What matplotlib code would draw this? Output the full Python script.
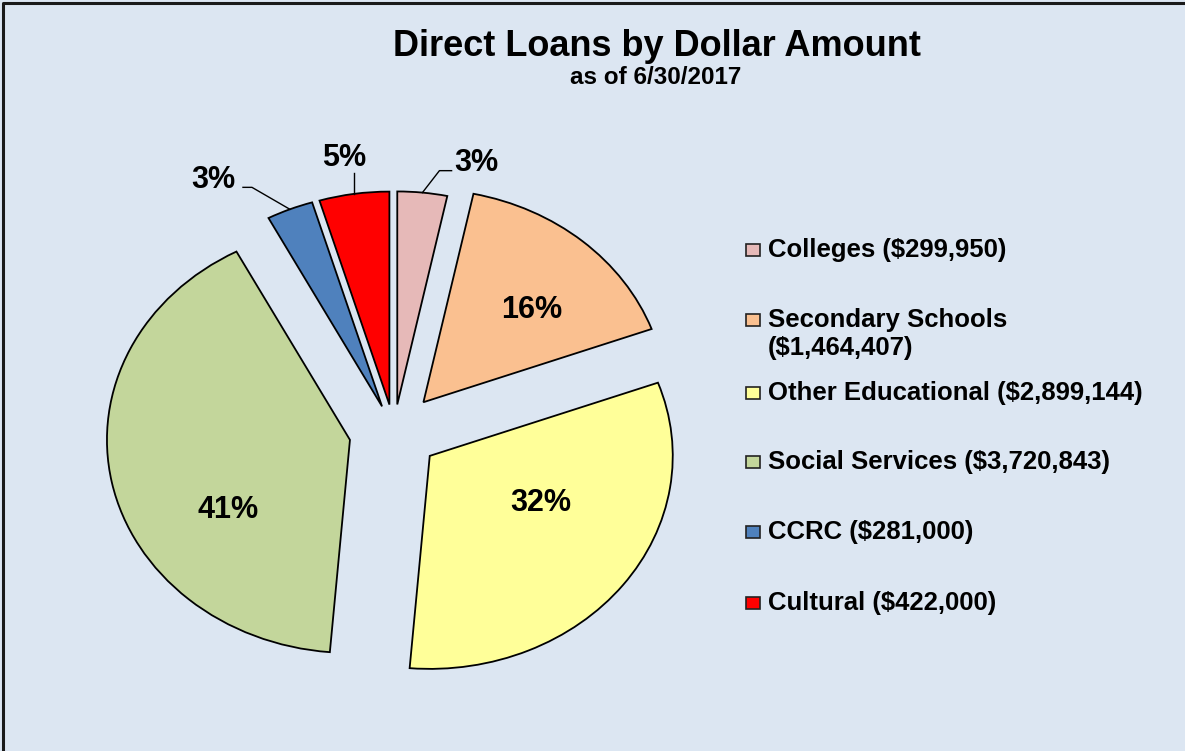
import matplotlib.pyplot as plt
from matplotlib.lines import Line2D
from matplotlib.patches import Rectangle
import numpy as np

plt.rcParams['font.family'] = ['Liberation Sans', 'DejaVu Sans']
plt.rcParams['font.weight'] = 'bold'

# data
categories = ['Colleges', 'Secondary Schools', 'Other Educational',
              'Social Services', 'CCRC', 'Cultural']
amounts = [299950, 1464407, 2899144, 3720843, 281000, 422000]
legend_labels = ['Colleges ($299,950)', 'Secondary Schools\n($1,464,407)',
                 'Other Educational ($2,899,144)', 'Social Services ($3,720,843)',
                 'CCRC ($281,000)', 'Cultural ($422,000)']
colors = ['#E6B9B8', '#FAC090', '#FFFF99', '#C3D69B', '#4F81BD', '#FF0000']
explode = [0.13, 0.185, 0.185, 0.185, 0.13, 0.13]

bg = '#DCE6F2'
W, H = 1185, 751
fig = plt.figure(figsize=(W / 100, H / 100), dpi=100)
fig.patch.set_facecolor(bg)

# pie centre and radii in pixels (the picture is stretched sideways)
cx, cy = 394, 432
rx, ry = 243, 213
lim = 1.5
ax = fig.add_axes([(cx - lim * rx) / W, (H - cy - lim * ry) / H,
                   2 * lim * rx / W, 2 * lim * ry / H])
wedges, _ = ax.pie(amounts, colors=colors, explode=explode, startangle=90,
                   counterclock=False,
                   wedgeprops=dict(edgecolor='black', linewidth=1.3))
ax.set_aspect('auto')
ax.set_xlim(-lim, lim)
ax.set_ylim(-lim, lim)
ax.set_facecolor('none')

total = float(sum(amounts))
pcts = ['%d%%' % round(100 * a / total) for a in amounts]

# labels inside the big slices
inside_pos = {1: (0.568, 0.573), 2: (0.605, -0.333), 3: (-0.683, -0.366)}
for i, (x, y) in inside_pos.items():
    ax.text(x, y, pcts[i], ha='center', va='center', fontsize=22, fontweight='bold')

# labels with leader lines for the small slices
# (elbow offset from arc point, extra horizontal run, text anchor)
leaders = {0: ((0.07, 0.103), 0.05, 'left'),
           4: ((-0.156, 0.103), -0.037, 'right'),
           5: ((0.0, 0.1), 0.0, 'center')}
for i, ((ex, ey), run, ha) in leaders.items():
    w = wedges[i]
    mid = np.deg2rad((w.theta1 + w.theta2) / 2)
    x0 = w.center[0] + w.r * np.cos(mid)
    y0 = w.center[1] + w.r * np.sin(mid)
    x1, y1 = x0 + ex, y0 + ey
    x2 = x1 + run
    ax.plot([x0, x1, x2], [y0, y1, y1], color='black', lw=1.0)
    if ha == 'left':
        ax.text(x2 + 0.01, y1 + 0.035, pcts[i], ha='left', va='center',
                fontsize=22, fontweight='bold')
    elif ha == 'right':
        ax.text(x2 - 0.03, y1 + 0.035, pcts[i], ha='right', va='center',
                fontsize=22, fontweight='bold')
    else:
        ax.text(x2 - 0.04, y1 + 0.07, pcts[i], ha='center', va='center',
                fontsize=22, fontweight='bold')

# titles
fig.text(657 / W, 1 - 46 / H, 'Direct Loans by Dollar Amount', ha='center',
         va='center', fontsize=26, fontweight='bold')
fig.text(656 / W, 1 - 78 / H, 'as of 6/30/2017', ha='center', va='center',
         fontsize=17.5, fontweight='bold')

# legend drawn by hand to keep Excel's row spacing
text_y = [250, 334, 393, 462, 532, 603]
box_y = [250, 320, 393, 462, 532, 603]
for lab, col, ty, by in zip(legend_labels, colors, text_y, box_y):
    fig.add_artist(Rectangle((746 / W, 1 - (by + 6) / H), 14 / W, 12 / H,
                             transform=fig.transFigure, facecolor=col,
                             edgecolor='#222222', lw=1.2))
    fig.text(768 / W, 1 - ty / H, lab, ha='left', va='center', fontsize=18.5,
             fontweight='bold', linespacing=1.25)

# outer frame (top and left edges visible)
fig.add_artist(Line2D([3 / W, 3 / W, 1], [0, 1 - 3 / H, 1 - 3 / H],
                      transform=fig.transFigure, color='#1a1a1a', lw=2.2))

fig.savefig('out.png', dpi=100, facecolor=bg)
